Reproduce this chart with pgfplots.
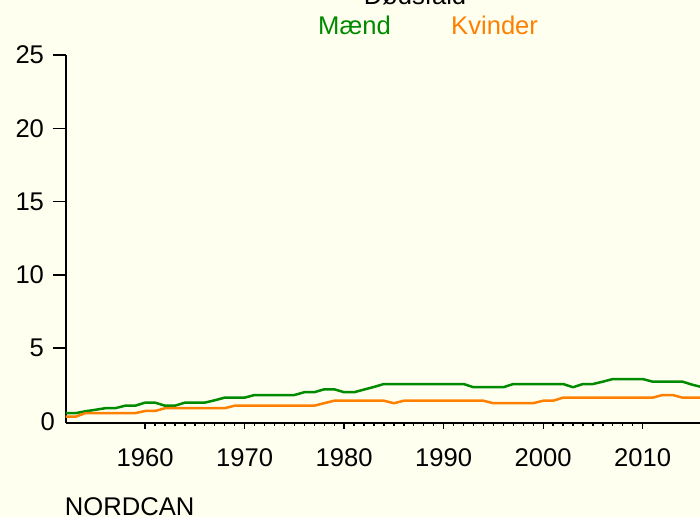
\documentclass[border=0pt]{standalone}
\usepackage{fontspec}
\setmainfont{Liberation Sans}
\usepackage{pgfplots}
\usepackage{pgfplotstable}
\pgfplotsset{compat=1.18}
\definecolor{bg}{HTML}{FFFFF0}
\definecolor{maend}{HTML}{008A00}
\definecolor{kvinder}{HTML}{FF8000}
\newcommand\bigfont{\fontsize{25.6}{30}\selectfont}
\pgfplotstableread{
year maend kvinder
1952 0.57 0.33
1953 0.57 0.33
1954 0.70 0.57
1955 0.80 0.57
1956 0.91 0.57
1957 0.91 0.57
1958 1.08 0.57
1959 1.08 0.57
1960 1.29 0.72
1961 1.29 0.72
1962 1.08 0.91
1963 1.08 0.91
1964 1.29 0.91
1965 1.29 0.91
1966 1.29 0.91
1967 1.45 0.91
1968 1.63 0.91
1969 1.63 1.08
1970 1.63 1.08
1971 1.81 1.08
1972 1.81 1.08
1973 1.81 1.08
1974 1.81 1.08
1975 1.81 1.08
1976 2.00 1.08
1977 2.00 1.08
1978 2.20 1.25
1979 2.20 1.42
1980 2.00 1.42
1981 2.00 1.42
1982 2.18 1.42
1983 2.36 1.42
1984 2.56 1.42
1985 2.56 1.25
1986 2.56 1.42
1987 2.56 1.42
1988 2.56 1.42
1989 2.56 1.42
1990 2.56 1.42
1991 2.56 1.42
1992 2.56 1.42
1993 2.34 1.42
1994 2.34 1.42
1995 2.34 1.25
1996 2.34 1.25
1997 2.56 1.25
1998 2.56 1.25
1999 2.56 1.25
2000 2.56 1.42
2001 2.56 1.42
2002 2.56 1.63
2003 2.34 1.63
2004 2.56 1.63
2005 2.56 1.63
2006 2.72 1.63
2007 2.90 1.63
2008 2.90 1.63
2009 2.90 1.63
2010 2.90 1.63
2011 2.72 1.63
2012 2.72 1.81
2013 2.72 1.81
2014 2.72 1.63
2015 2.51 1.63
2016 2.34 1.63
}\datatable
\begin{document}
\begin{tikzpicture}
\useasboundingbox (0pt,0pt) rectangle (700pt,517pt);
\fill[bg] (0pt,0pt) rectangle (700pt,517pt);
\begin{axis}[
  at={(65.5pt,94pt)}, anchor=south west, scale only axis,
  width=634.5pt, height=368pt,
  xmin=1952, xmax=2015.76, ymin=-0.1, ymax=25,
  axis x line=none, axis y line*=left,
  axis line style={line width=2pt, black},
  ytick={5,10,...,25}, tick align=outside, major tick length=13pt,
  extra y ticks={0},
  extra y tick style={major tick length=0pt, tick style={draw=none}, yticklabel style={xshift=-2pt}},
  ytick style={line width=1.5pt, black},
  yticklabel style={font=\bigfont, xshift=-5pt},
  /pgf/number format/assume math mode=true,
]
\end{axis}
\begin{axis}[
  at={(65.5pt,94pt)}, anchor=south west, scale only axis,
  width=634.5pt, height=368pt,
  xmin=1952, xmax=2015.76, ymin=-0.1, ymax=25,
  axis y line=none, axis x line*=bottom,
  axis line style={line width=2pt, black},
  xtick={1960,1970,...,2010}, minor x tick num=9,
  tick align=outside, major tick length=6pt, minor tick length=3pt,
  xtick style={line width=1.3pt, black},
  minor tick style={line width=1.1pt, black},
  xticklabel style={font=\bigfont, /pgf/number format/1000 sep={}, yshift=-16pt},
  /pgf/number format/assume math mode=true,
]
\addplot[maend, line width=2.5pt, line join=round] table[x=year, y=maend] {\datatable};
\addplot[kvinder, line width=2.5pt, line join=round] table[x=year, y=kvinder] {\datatable};
\end{axis}
\node[anchor=base, font=\bigfont] at (415pt,512.5pt) {Dødsfald};
\node[anchor=base west, inner sep=0pt, font=\bigfont, text=maend] at (318pt,482.7pt) {Mænd};
\node[anchor=base west, inner sep=0pt, font=\bigfont, text=kvinder] at (451pt,482.7pt) {Kvinder};
\node[anchor=base west, inner sep=0pt, font=\bigfont] at (64.7pt,1.4pt) {NORDCAN};
\end{tikzpicture}
\end{document}
